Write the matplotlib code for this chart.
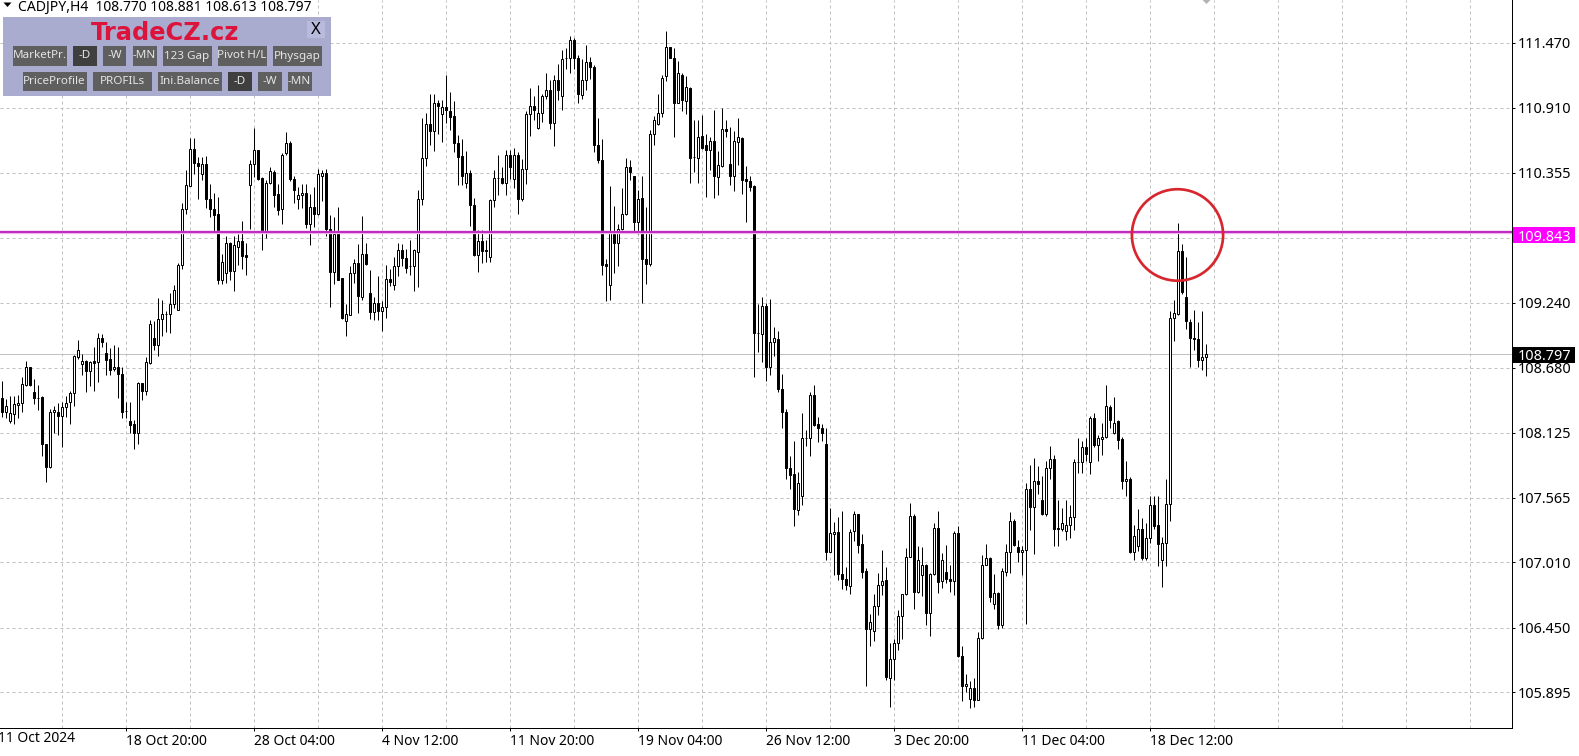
import matplotlib
matplotlib.use("Agg")
import matplotlib.pyplot as plt
from matplotlib.patches import Ellipse, Rectangle, Polygon

plt.rcParams["font.family"] = ["Noto Sans", "DejaVu Sans"]

# OHLC, una vela cada 4 horas
opens = [
    108.42,108.30,108.22,108.28,108.36,108.38,108.53,108.69,108.47,108.42,
    108.43,108.03,107.83,108.30,108.30,108.27,108.34,108.39,108.46,108.77,
    108.71,108.74,108.65,108.74,108.73,108.94,108.81,108.76,108.67,108.69,
    108.63,108.31,108.22,108.20,108.12,108.55,108.48,108.72,108.94,108.88,
    109.10,109.14,109.14,109.23,109.18,109.56,110.04,110.24,110.56,110.44,
    110.34,110.43,110.13,110.04,110.00,109.43,109.49,109.75,109.51,109.72,
    109.77,109.65,110.25,110.43,110.55,110.31,109.85,110.27,110.36,110.17,
    110.04,110.52,110.61,110.30,110.13,110.16,110.18,109.91,110.06,110.00,
    110.33,110.35,109.87,109.50,109.84,109.45,109.08,109.13,109.49,109.58,
    109.29,109.66,109.32,109.16,109.24,109.17,109.20,109.44,109.39,109.55,
    109.69,109.62,109.55,109.55,109.67,110.13,110.48,110.77,110.71,110.95,
    110.86,110.92,110.88,110.84,110.61,110.50,110.27,110.35,110.08,109.65,
    109.77,109.69,109.63,110.12,110.31,110.31,110.27,110.51,110.30,110.51,
    110.13,110.39,110.86,110.93,110.74,110.87,111.01,111.06,110.78,111.15,
    111.01,111.34,111.34,111.49,111.34,111.02,111.15,111.30,111.26,110.59,
    110.46,109.57,109.39,109.83,109.75,109.87,110.00,110.40,110.33,109.93,
    110.14,109.61,109.57,110.69,110.77,110.87,111.18,111.43,111.34,110.95,
    111.19,110.97,111.08,110.49,110.48,110.67,110.59,110.55,110.63,110.32,
    110.41,110.73,110.43,110.33,110.62,110.65,110.30,110.28,110.24,108.98,
    108.97,109.21,108.69,108.90,108.93,108.50,108.30,107.82,107.77,107.46,
    107.58,108.08,108.08,108.45,108.20,108.16,108.03,107.10,107.25,107.27,
    106.91,106.87,106.81,107.28,107.43,107.17,106.94,106.44,106.42,106.64,
    106.82,106.86,106.02,106.18,106.32,106.55,106.74,107.06,107.41,106.76,
    106.90,106.99,106.58,106.91,107.31,106.85,106.93,106.87,106.85,107.26,
    106.21,105.95,105.84,105.93,105.83,106.36,106.99,107.05,106.65,106.75,
    106.47,106.93,107.10,107.37,107.14,107.10,107.12,107.64,107.49,107.71,
    107.55,107.43,107.82,107.90,107.31,107.30,107.28,107.33,107.40,107.87,
    107.87,108.00,107.87,108.25,108.02,108.07,108.09,108.34,108.12,108.22,
    108.07,107.71,107.73,107.10,107.15,107.30,107.05,107.22,107.50,107.33,
    107.03,107.18,107.51,109.11,109.14,109.68,109.29,109.07,108.94,108.93,
    108.75,108.770,
]
closes = [
    108.30,108.35,108.29,108.37,108.38,108.54,108.69,108.53,108.42,108.42,
    108.03,107.83,108.30,108.32,108.27,108.34,108.38,108.46,108.78,108.83,
    108.74,108.65,108.73,108.72,108.94,108.90,108.75,108.66,108.69,108.63,
    108.30,108.31,108.19,108.12,108.55,108.48,108.73,109.06,108.88,109.10,
    109.14,109.14,109.23,109.35,109.56,110.04,110.25,110.56,110.44,110.41,
    110.43,110.13,110.04,109.99,109.43,109.59,109.75,109.51,109.73,109.77,
    109.64,109.63,110.43,110.55,110.30,109.85,110.27,110.37,110.16,110.03,
    110.51,110.61,110.30,110.21,110.16,110.18,109.91,110.06,110.00,110.34,
    110.35,109.87,109.50,109.83,109.43,109.11,109.14,109.49,109.58,109.30,
    109.66,109.57,109.16,109.24,109.17,109.20,109.44,109.42,109.55,109.69,
    109.62,109.54,109.55,109.69,110.13,110.48,110.77,110.71,110.95,110.93,
    110.92,110.89,110.83,110.61,110.49,110.33,110.35,110.08,109.65,109.77,
    109.68,109.68,110.12,110.31,110.31,110.27,110.51,110.40,110.51,110.13,
    110.39,110.86,110.93,110.89,110.87,111.01,111.06,110.78,111.15,111.06,
    111.33,111.34,111.49,111.34,111.03,111.15,111.30,111.26,110.59,110.46,
    109.56,109.55,109.85,109.75,109.87,110.00,110.40,110.36,109.93,110.13,
    109.61,109.57,110.69,110.81,110.87,111.17,111.43,111.34,110.95,111.21,
    110.98,111.09,110.48,110.49,110.66,110.57,110.55,110.63,110.33,110.42,
    110.73,110.71,110.33,110.63,110.66,110.29,110.28,110.23,108.98,108.98,
    109.21,108.69,108.90,108.94,108.50,108.30,107.82,107.76,107.47,107.69,
    108.08,108.08,108.45,108.19,108.16,108.12,107.10,107.26,107.27,106.91,
    106.87,106.82,107.27,107.43,107.16,106.93,106.44,106.50,106.64,106.82,
    106.85,106.03,106.18,106.32,106.55,106.74,107.06,107.41,106.76,107.03,
    106.99,106.58,106.91,107.31,106.84,107.03,106.87,106.85,107.26,106.21,
    105.95,105.97,105.93,105.83,106.36,106.99,107.05,106.71,106.75,106.47,
    106.94,107.10,107.37,107.16,107.10,107.12,107.64,107.49,107.71,107.68,
    107.43,107.82,107.90,107.30,107.30,107.35,107.33,107.40,107.87,107.87,
    108.00,107.94,108.25,108.02,108.08,108.09,108.35,108.23,108.21,108.06,
    107.71,107.73,107.10,107.24,107.30,107.05,107.22,107.50,107.32,107.17,
    107.18,107.51,109.11,109.15,109.68,109.33,109.08,108.94,108.93,108.75,
    108.77,108.797,
]
highs = [
    108.57,108.41,108.44,108.44,108.45,108.60,108.74,108.69,108.58,108.53,
    108.44,108.03,108.33,108.35,108.38,108.39,108.44,108.48,108.79,108.92,
    108.80,108.75,108.74,108.86,108.98,108.97,108.90,108.85,108.88,108.86,
    108.69,108.39,108.39,108.23,108.56,108.55,108.77,109.09,109.08,109.28,
    109.26,109.17,109.32,109.39,109.58,110.09,110.38,110.65,110.65,110.49,
    110.49,110.50,110.26,110.18,110.15,109.66,109.81,109.76,109.81,109.83,
    109.94,109.75,110.46,110.74,110.55,110.32,110.29,110.40,110.38,110.26,
    110.52,110.70,110.63,110.33,110.23,110.26,110.26,110.17,110.23,110.39,
    110.38,110.39,109.99,109.97,110.06,109.45,109.23,109.55,109.61,109.74,
    109.98,109.75,109.52,109.29,109.47,109.25,109.56,109.53,109.63,109.75,
    109.74,109.70,109.78,109.70,110.21,110.82,110.87,111.03,111.03,110.98,
    110.98,111.19,111.05,110.97,110.68,110.64,110.54,110.38,110.14,109.86,
    109.86,109.78,110.13,110.38,110.51,110.40,110.55,110.55,110.57,110.53,
    110.47,110.88,111.08,111.01,111.11,111.03,111.21,111.15,111.19,111.29,
    111.41,111.42,111.53,111.51,111.36,111.33,111.45,111.35,111.28,110.82,
    110.64,109.61,110.24,110.07,109.91,110.22,110.48,110.46,110.33,110.21,
    110.33,110.06,110.72,110.84,111.03,111.19,111.57,111.43,111.42,111.31,
    111.21,111.18,111.09,110.81,110.81,110.85,110.69,110.66,110.89,110.54,
    110.91,110.81,110.75,110.71,110.82,110.66,110.41,110.33,110.25,109.23,
    109.29,109.24,109.27,109.03,109.00,108.63,108.33,107.92,108.05,107.79,
    108.29,108.15,108.47,108.53,108.26,108.20,108.16,107.48,107.36,107.40,
    107.45,106.97,107.30,107.45,107.43,107.25,106.96,106.57,106.74,106.92,
    107.12,106.97,106.32,106.35,106.60,106.74,107.13,107.52,107.43,107.15,
    107.14,107.00,106.92,107.35,107.45,107.09,107.16,106.99,107.28,107.32,
    106.29,106.05,105.99,106.02,106.41,107.07,107.17,107.06,106.91,106.76,
    106.96,107.17,107.44,107.38,107.20,107.15,107.69,107.85,107.91,107.84,
    107.75,107.88,108.01,107.93,107.55,107.48,107.55,107.50,107.90,108.08,
    108.05,108.08,108.27,108.29,108.10,108.21,108.53,108.36,108.43,108.23,
    108.09,107.88,107.74,107.33,107.47,107.39,107.35,107.58,107.58,107.58,
    107.23,107.73,109.17,109.26,109.92,109.74,109.63,109.10,109.18,109.07,
    109.17,108.881,
]
lows = [
    108.26,108.25,108.21,108.20,108.25,108.30,108.52,108.52,108.37,108.32,
    107.92,107.70,107.82,108.12,108.10,108.00,108.26,108.20,108.35,108.76,
    108.62,108.47,108.52,108.48,108.56,108.86,108.62,108.62,108.65,108.42,
    108.25,108.25,108.12,107.98,108.03,108.40,108.45,108.71,108.83,108.78,
    108.95,108.99,108.98,109.19,109.18,109.53,110.00,110.24,110.34,110.13,
    110.29,110.05,109.97,109.85,109.40,109.40,109.41,109.43,109.34,109.56,
    109.53,109.48,109.87,110.32,110.29,109.69,109.79,110.26,110.06,109.99,
    109.91,110.51,110.28,110.09,110.04,110.05,109.88,109.73,109.89,109.99,
    110.11,109.81,109.20,109.40,109.43,109.10,108.95,109.13,109.41,109.15,
    109.26,109.56,109.10,109.09,109.09,109.00,109.11,109.38,109.35,109.47,
    109.55,109.49,109.48,109.34,109.37,110.08,110.41,110.59,110.54,110.69,
    110.62,110.78,110.72,110.53,110.25,110.25,110.22,109.90,109.64,109.50,
    109.58,109.59,109.59,110.06,110.16,110.26,110.16,110.30,110.22,110.00,
    110.11,110.26,110.67,110.81,110.73,110.79,110.99,110.73,110.58,110.98,
    110.89,111.24,111.21,111.24,110.95,110.99,111.06,111.16,110.53,110.44,
    109.48,109.25,109.26,109.49,109.55,109.86,109.99,110.29,109.85,109.83,
    109.24,109.40,109.55,110.59,110.76,110.83,111.14,111.34,110.66,110.95,
    110.88,110.86,110.27,110.36,110.27,110.56,110.15,110.38,110.14,110.16,
    110.40,110.66,110.25,110.20,110.42,110.17,109.93,110.20,108.60,108.82,
    108.73,108.57,108.62,108.78,108.47,108.16,107.73,107.64,107.32,107.42,
    107.50,108.01,107.92,108.18,108.04,108.05,107.03,107.10,106.90,106.86,
    106.78,106.77,106.74,107.19,107.09,106.88,105.95,106.29,106.34,106.56,
    106.73,106.00,105.77,106.00,106.26,106.35,106.73,107.06,106.61,106.75,
    106.72,106.47,106.38,106.90,106.75,106.79,106.83,106.76,106.73,106.20,
    105.82,105.90,105.76,105.77,105.83,106.35,106.99,106.67,106.61,106.44,
    106.45,106.89,106.92,107.15,107.01,106.90,106.48,107.29,107.08,107.60,
    107.42,107.41,107.73,107.15,107.15,107.28,107.20,107.22,107.29,107.78,
    107.78,107.88,107.77,108.00,107.88,107.93,108.08,108.16,108.11,107.98,
    107.64,107.58,107.09,107.03,107.11,107.03,107.03,107.18,107.30,106.98,
    106.80,106.98,107.37,108.91,109.13,109.31,109.01,108.69,108.83,108.69,
    108.66,108.613,
]

price_ticks = [111.470, 110.910, 110.355, 109.795, 109.240, 108.680, 108.125, 107.565, 107.010, 106.450, 105.895]
price_labels = ["111.470", "110.910", "110.355", "", "109.240", "108.680", "108.125", "107.565", "107.010", "106.450", "105.895"]
date_labels = ["18 Oct 20:00", "28 Oct 04:00", "4 Nov 12:00", "11 Nov 20:00", "19 Nov 04:00",
               "26 Nov 12:00", "3 Dec 20:00", "11 Dec 04:00", "18 Dec 12:00"]
first_date = "11 Oct 2024"
level_price = 109.843
last_price = 108.797
header = "CADJPY,H4  108.770 108.881 108.613 108.797"

W, H = 1579, 756
fig = plt.figure(figsize=(W / 100, H / 100), dpi=100, facecolor="white")
ax = fig.add_axes([0, 1 - 727.5 / H, 1511.5 / W, 727.5 / H])
px = 0.72  # 1 pixel en puntos

bars = list(range(len(opens)))
ax.set_xlim(-0.375, 377.5)
ax.set_ylim(105.594, 111.836)

# rejilla y ejes estilo MT4
major = list(range(31, 288, 32))
minor = [k for k in range(15, 370, 16) if k not in major]
ax.set_xticks(major)
ax.set_xticks(minor, minor=True)
ax.set_xticklabels(date_labels, ha="left", fontsize=10)
ax.set_yticks(price_ticks)
ax.set_yticklabels(price_labels, fontsize=10.4)
ax.yaxis.tick_right()
ax.tick_params(axis="x", which="major", length=3 * px, width=px, pad=2.6, color="black")
ax.tick_params(axis="x", which="minor", length=0)
ax.tick_params(axis="y", length=3 * px, width=px, pad=2, color="black")
ax.grid(True, which="both", color="#c0c0c0", linestyle=(0, (3, 3)), linewidth=px)
ax.set_axisbelow(True)
for side in ["top", "left"]:
    ax.spines[side].set_visible(False)
for side in ["right", "bottom"]:
    ax.spines[side].set_linewidth(px)
ax.text(-1, -10.5 / 727.5, first_date, transform=ax.get_xaxis_transform(), fontsize=10, ha="left", va="center",
        clip_on=False)

ax.axhline(last_price, color="#c0c0c0", linewidth=px, zorder=1.5)

# velas
ax.vlines(bars, lows, highs, color="black", linewidth=px, zorder=2)
for i in bars:
    top = max(opens[i], closes[i])
    bottom = min(opens[i], closes[i])
    face = "white" if closes[i] > opens[i] else "black"
    ax.bar(i, top - bottom, bottom=bottom, width=0.5, facecolor=face, edgecolor="black",
           linewidth=px, zorder=3)

# nivel y circulo
ax.axhline(level_price, color="#f3c4f3", linewidth=3.4 * px, zorder=4)
ax.axhline(level_price, color="#c02cc0", linewidth=2.2 * px, zorder=4.1)
ax.add_patch(Ellipse((294.0, 109.82), 22.8, 0.785, fill=False, edgecolor="#d7262e", linewidth=2.7 * px, zorder=5))

# etiquetas de precio en la escala
tag_h = 16 * (111.836 - 105.594) / 727.5
for price, center, color in [(level_price, level_price - 0.026, "#ff00ff"), (last_price, last_price - 0.006, "black")]:
    ax.add_patch(Rectangle((1513 / 1511.5, center - tag_h / 2), 61.7 / 1511.5, tag_h, transform=ax.get_yaxis_transform(),
                           facecolor=color, edgecolor="none", clip_on=False, zorder=6))
    ax.text(1518 / 1511.5, center, f"{price:.3f}", transform=ax.get_yaxis_transform(), color="white",
            fontsize=10.4, va="center_baseline", ha="left", clip_on=False, zorder=7)


def box(x0, y0, x1, y1, color, z=10):
    r = Rectangle((x0 / W, 1 - y1 / H), (x1 - x0) / W, (y1 - y0) / H, transform=fig.transFigure,
                  facecolor=color, edgecolor="none", zorder=z)
    fig.add_artist(r)
    return r


def label(x, y, s, color="black", size=9, clip=None, **kw):
    t = fig.text(x / W, 1 - y / H, s, color=color, fontsize=size, va="center", zorder=12, **kw)
    if clip is not None:
        t.set_clip_path(clip)
        t.set_clip_on(True)
    return t


# cabecera
box(0, 0, 316, 16, "white", z=9)
fig.add_artist(Polygon([(3.5 / W, 1 - 2.5 / H), (11.5 / W, 1 - 2.5 / H), (7.5 / W, 1 - 7 / H)], closed=True,
                       transform=fig.transFigure, facecolor="black", edgecolor="none", zorder=12))
label(18, 7.5, header, size=10.05)

# marca gris arriba
fig.add_artist(Polygon([(1202.5 / W, 1.0), (1210.5 / W, 1.0), (1206.5 / W, 1 - 4 / H)], closed=True,
                       transform=fig.transFigure, facecolor="#b4b4b4", edgecolor="none", zorder=12))

# panel TradeCZ
box(2.5, 16.5, 331.5, 96, "#a9abcf")
label(165.5, 33, "TradeCZ.cz", color="#dc143c", size=17.4, family="DejaVu Sans", fontweight="bold", ha="center")
box(307, 21, 325, 38, "#b9bbdc", z=11)
label(316, 30, "X", size=12, ha="center")

row1 = [("MarketPr.", 12.5, 66.5, "#5f5f5f"), ("-D", 72.5, 96.5, "#3f3f3f"), ("-W", 102.5, 126.5, "#5f5f5f"),
        ("-MN", 132.5, 156.5, "#5f5f5f"), ("123 Gap", 162.5, 211.5, "#5f5f5f"), ("Pivot H/L", 217.5, 266.5, "#5f5f5f"),
        ("Physgap", 272.5, 321.5, "#5f5f5f")]
row2 = [("PriceProfile", 22.5, 86.5, "#5f5f5f"), ("PROFILs", 92.5, 151.5, "#5f5f5f"), ("Ini.Balance", 157.5, 221.5, "#5f5f5f"),
        ("-D", 227.5, 251.5, "#3f3f3f"), ("-W", 257.5, 281.5, "#5f5f5f"), ("-MN", 287.5, 311.5, "#5f5f5f")]
for (row, y0, y1) in [(row1, 46, 66), (row2, 72, 91)]:
    for name, x0, x1, color in row:
        r = box(x0, y0, x1, y1, color, z=11)
        label((x0 + x1) / 2, (y0 + y1) / 2, name, color="#e4e4e4", size=8.4, ha="center", clip=r)

fig.savefig("out.png", dpi=100)
